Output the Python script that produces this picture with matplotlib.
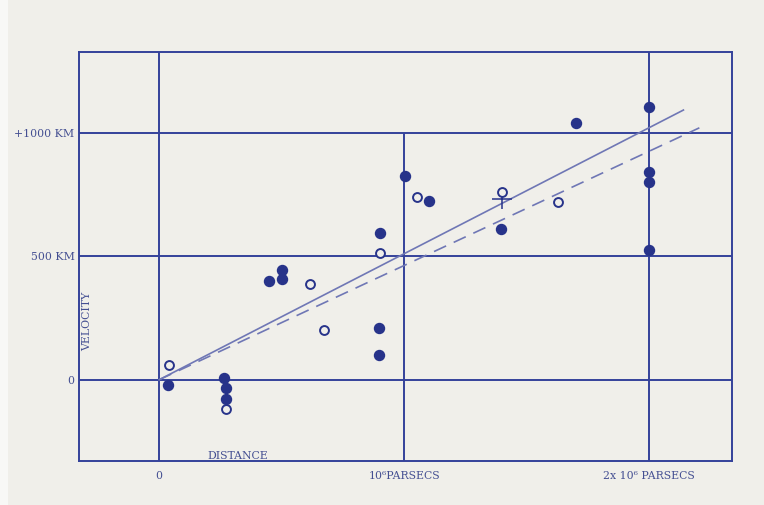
import matplotlib.pyplot as plt
from matplotlib.patches import Rectangle

# Hubble 1929: distance in 10^6 parsecs, velocity in km/s
filled_dist = [0.035, 0.263, 0.275, 0.275, 0.448, 0.503, 0.503, 0.899, 0.899, 0.900,
               1.004, 1.102, 1.396, 1.701, 2.0, 2.0, 2.0, 2.0]
filled_vel = [-20, 8, -35, -78, 398, 444, 409, 211, 99, 594,
              826, 722, 610, 1038, 1105, 840, 802, 524]

open_dist = [0.039, 0.272, 0.614, 0.671, 0.900, 1.052, 1.401, 1.627]
open_vel = [59, -120, 387, 203, 513, 741, 759, 721]

cross_dist = [1.40]
cross_vel = [732]

solid_x = [0.0, 2.14]
solid_v = [0, 1092]
dashed_x = [0.0, 2.205]
dashed_v = [0, 1020]

yticks = [0, 500, 1000]
ytick_labels = ["0", "500 KM", "+1000 KM"]
xticks = [0, 1, 2]
xtick_labels = ["0", "10\u2076PARSECS", "2x 10\u2076 PARSECS"]

navy = "#27338a"
grid_c = "#34429a"
fit_c = "#6f77b5"
text_c = "#444f92"
bg = "#f0efea"

fig = plt.figure(figsize=(7.64, 5.06), dpi=100)
fig.patch.set_facecolor("#f8f8f6")
fig.patches.append(Rectangle((8 / 764, 0), 1, 1, transform=fig.transFigure,
                             facecolor=bg, edgecolor="none", zorder=-10))

ax = fig.add_axes([79 / 764, 44 / 506, 652.7 / 764, 409 / 506])
ax.set_facecolor(bg)
ax.set_xlim(-0.327, 2.337)
ax.set_ylim(-329, 1327)

for s in ax.spines.values():
    s.set_color(grid_c)
    s.set_linewidth(1.4)

# grid
for y in yticks:
    ax.axhline(y, color=grid_c, lw=1.4, zorder=1)
ax.axvline(0, color=grid_c, lw=1.4, zorder=1)
ax.axvline(2, color=grid_c, lw=1.4, zorder=1)
ax.vlines(1, -329, 1000, color=grid_c, lw=1.4, zorder=1)

# fitted lines
ax.plot(solid_x, solid_v, color=fit_c, lw=1.2, zorder=2)
ax.plot(dashed_x, dashed_v, color=fit_c, lw=1.2, ls=(0, (8, 5)), zorder=2)

ax.plot(filled_dist, filled_vel, "o", ms=7.2, color=navy, mec=navy, zorder=4)
ax.plot(open_dist, open_vel, "o", ms=6.4, mfc=bg, mec=navy, mew=1.4, zorder=4)
ax.plot(cross_dist, cross_vel, "+", ms=15, mew=1.1, color=navy, zorder=3)

ax.set_xticks([])
ax.set_yticks([])

font = dict(family="DejaVu Serif", color=text_c, fontsize=7.8)
for y, lab in zip(yticks, ytick_labels):
    ax.text(-0.345, y, lab, ha="right", va="center", **font)
for x, lab in zip(xticks, xtick_labels):
    ax.text(x, -385, lab, ha="center", va="center", **font)

ax.text(-0.295, 242, "VELOCITY", rotation=90, ha="center", va="center", **font)
ax.text(0.32, -305, "DISTANCE", ha="center", va="center", **font)

fig.savefig("out.png", dpi=100, facecolor=fig.get_facecolor())
